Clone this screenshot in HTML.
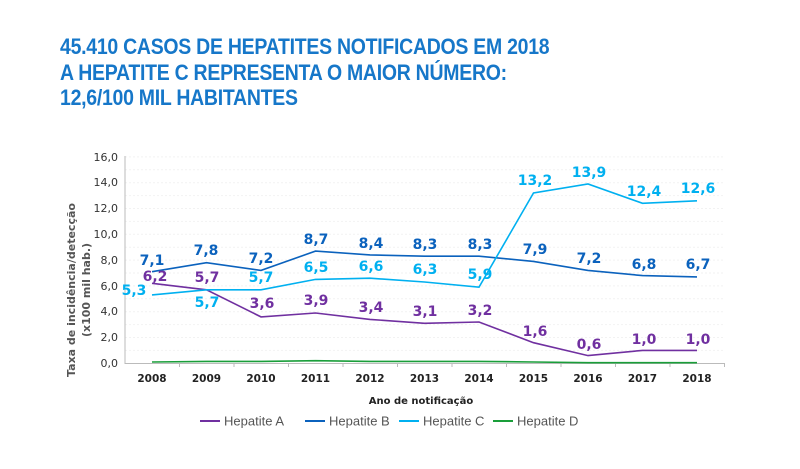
<!DOCTYPE html>
<html><head><meta charset="utf-8"><style>
body{margin:0;background:#fff;width:800px;height:469px;overflow:hidden}
.t{position:absolute;left:60px;top:34px;font:bold 22px/25.5px "Liberation Sans",sans-serif;color:#1677c9;letter-spacing:-0.3px;transform:scaleX(0.885);transform-origin:left}
</style></head><body>
<div class="t">45.410 CASOS DE HEPATITES NOTIFICADOS EM 2018<br>A HEPATITE C REPRESENTA O MAIOR NÚMERO:<br>12,6/100 MIL HABITANTES</div>
<svg width="800" height="469" style="position:absolute;left:0;top:0" font-family="Verdana,'DejaVu Sans',sans-serif">
<g stroke="#f2f2f2" stroke-width="1" stroke-dasharray="2,2">
<line x1="125" x2="725" y1="350.4" y2="350.4"/><line x1="125" x2="725" y1="337.5" y2="337.5"/><line x1="125" x2="725" y1="324.6" y2="324.6"/><line x1="125" x2="725" y1="311.7" y2="311.7"/><line x1="125" x2="725" y1="298.8" y2="298.8"/><line x1="125" x2="725" y1="285.9" y2="285.9"/><line x1="125" x2="725" y1="273" y2="273"/><line x1="125" x2="725" y1="260.1" y2="260.1"/><line x1="125" x2="725" y1="247.2" y2="247.2"/><line x1="125" x2="725" y1="234.3" y2="234.3"/><line x1="125" x2="725" y1="221.4" y2="221.4"/><line x1="125" x2="725" y1="208.5" y2="208.5"/><line x1="125" x2="725" y1="195.6" y2="195.6"/><line x1="125" x2="725" y1="182.7" y2="182.7"/><line x1="125" x2="725" y1="169.8" y2="169.8"/><line x1="125" x2="725" y1="156.9" y2="156.9"/>
</g>
<g stroke="#bbb" stroke-width="1"><line x1="125" y1="156" x2="125" y2="364"/><line x1="125" y1="363.5" x2="725" y2="363.5"/>
<line x1="179.5" y1="363" x2="179.5" y2="367"/><line x1="234" y1="363" x2="234" y2="367"/><line x1="288.5" y1="363" x2="288.5" y2="367"/><line x1="343" y1="363" x2="343" y2="367"/><line x1="397.5" y1="363" x2="397.5" y2="367"/><line x1="452" y1="363" x2="452" y2="367"/><line x1="506.5" y1="363" x2="506.5" y2="367"/><line x1="561" y1="363" x2="561" y2="367"/><line x1="615.5" y1="363" x2="615.5" y2="367"/><line x1="670" y1="363" x2="670" y2="367"/><line x1="724.5" y1="363" x2="724.5" y2="367"/>
</g>
<g font-size="11" fill="#333" text-anchor="end">
<text x="118" y="367">0,0</text><text x="118" y="341">2,0</text><text x="118" y="315">4,0</text><text x="118" y="290">6,0</text><text x="118" y="264">8,0</text><text x="118" y="238">10,0</text><text x="118" y="212">12,0</text><text x="118" y="186">14,0</text><text x="118" y="161">16,0</text>
</g>
<g font-size="10.5" font-weight="bold" fill="#222" text-anchor="middle">
<text x="152" y="382">2008</text><text x="206.5" y="382">2009</text><text x="261" y="382">2010</text><text x="315.5" y="382">2011</text><text x="370" y="382">2012</text><text x="424.5" y="382">2013</text><text x="479" y="382">2014</text><text x="533.5" y="382">2015</text><text x="588" y="382">2016</text><text x="642.5" y="382">2017</text><text x="697" y="382">2018</text>
<text x="421" y="404" font-size="10">Ano de notificação</text>
</g>
<g font-size="11" font-weight="bold" fill="#555" text-anchor="middle">
<text transform="translate(75,290) rotate(-90)">Taxa de incidência/detecção</text>
<text transform="translate(90,290) rotate(-90)">(x100 mil hab.)</text>
</g>
<g fill="none" stroke-width="1.6">
<polyline stroke="#1a9e3a" points="152,362 206.5,361.4 261,361.4 315.5,360.7 370,361.4 424.5,361.4 479,361.4 533.5,362 588,362.7 642.5,362.7 697,362.7"/>
<polyline stroke="#7030a0" points="152,283.3 206.5,289.8 261,316.9 315.5,313 370,319.4 424.5,323.3 479,322 533.5,342.7 588,355.6 642.5,350.4 697,350.4"/>
<polyline stroke="#0b62bd" points="152,271.7 206.5,262.7 261,270.4 315.5,251.1 370,254.9 424.5,256.2 479,256.2 533.5,261.4 588,270.4 642.5,275.6 697,276.9"/>
<polyline stroke="#00b0f0" points="152,294.9 206.5,289.8 261,289.8 315.5,279.4 370,278.2 424.5,282 479,287.2 533.5,193 588,184 642.5,203.3 697,200.8"/>
</g>
<g font-size="14" font-weight="bold" text-anchor="middle">
<g fill="#0b62bd"><text x="152" y="265">7,1</text><text x="206" y="255">7,8</text><text x="261" y="263">7,2</text><text x="316" y="244">8,7</text><text x="371" y="248">8,4</text><text x="425" y="249">8,3</text><text x="480" y="249">8,3</text><text x="535" y="254">7,9</text><text x="589" y="263">7,2</text><text x="644" y="269">6,8</text><text x="698" y="269">6,7</text></g>
<g fill="#7030a0"><text x="155" y="281">6,2</text><text x="207" y="282">5,7</text><text x="262" y="308">3,6</text><text x="316" y="305">3,9</text><text x="371" y="312">3,4</text><text x="425" y="316">3,1</text><text x="480" y="315">3,2</text><text x="535" y="336">1,6</text><text x="589" y="349">0,6</text><text x="644" y="344">1,0</text><text x="698" y="344">1,0</text></g>
<g fill="#00b0f0"><text x="134" y="295">5,3</text><text x="207" y="307">5,7</text><text x="261" y="282">5,7</text><text x="316" y="272">6,5</text><text x="371" y="271">6,6</text><text x="425" y="274">6,3</text><text x="480" y="279">5,9</text><text x="535" y="185">13,2</text><text x="589" y="177">13,9</text><text x="644" y="196">12,4</text><text x="698" y="193">12,6</text></g>
</g>
<g font-size="13" fill="#555" font-family="'Liberation Sans',sans-serif">
<line x1="200" x2="220" y1="421" y2="421" stroke="#7030a0" stroke-width="2"/><text x="224" y="425.5">Hepatite A</text>
<line x1="305" x2="325" y1="421" y2="421" stroke="#0b62bd" stroke-width="2"/><text x="329" y="425.5">Hepatite B</text>
<line x1="399" x2="419" y1="421" y2="421" stroke="#00b0f0" stroke-width="2"/><text x="423" y="425.5">Hepatite C</text>
<line x1="493" x2="513" y1="421" y2="421" stroke="#1a9e3a" stroke-width="2"/><text x="517" y="425.5">Hepatite D</text>
</g>
</svg>
</body></html>
